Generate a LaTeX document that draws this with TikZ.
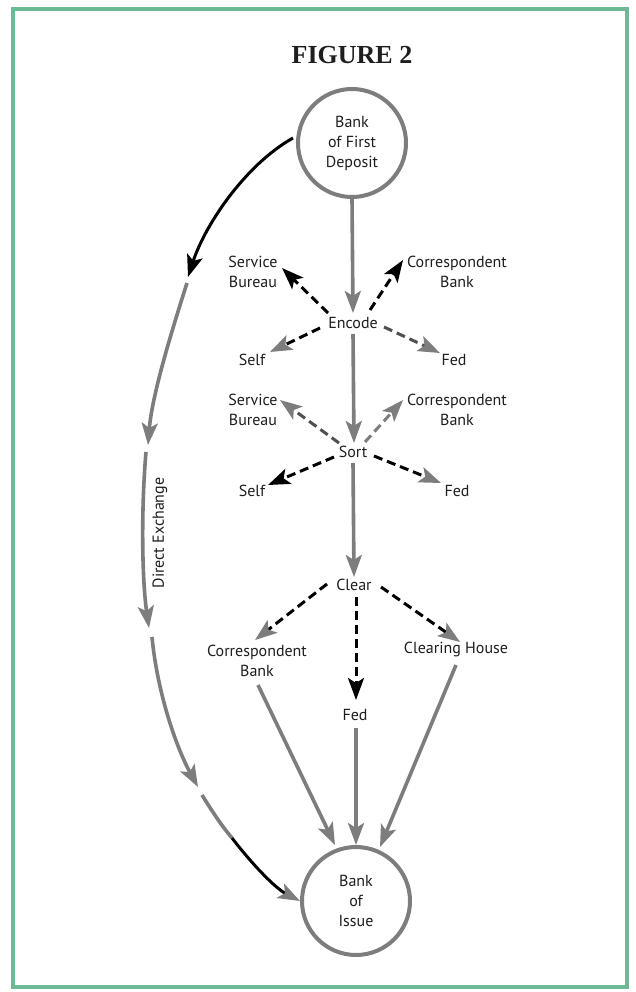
\documentclass[tikz,border=0pt]{standalone}
\usepackage{fontspec}
\setsansfont{PT Sans}
\newfontfamily\figfont{Liberation Serif}
\usetikzlibrary{arrows.meta,calc}
\definecolor{framegreen}{RGB}{110,185,150}
\definecolor{lgray}{RGB}{125,125,125}
\definecolor{dgray}{RGB}{80,80,80}
\definecolor{ink}{RGB}{30,30,30}
\tikzset{
  lab/.style={font=\sffamily\fontsize{16}{20}\selectfont, text=ink, align=center, inner sep=1pt},
  bank/.style={circle, draw=lgray, line width=4pt, minimum size=108pt, inner sep=0pt, lab},
  gline/.style={draw=lgray, line width=3.6pt},
  bline/.style={draw=black, line width=3pt},
  dline/.style={draw=black, line width=3pt, dash pattern=on 9pt off 5pt},
  ddline/.style={draw=dgray, line width=3pt, dash pattern=on 9pt off 5pt},
  gdline/.style={draw=lgray, line width=3pt, dash pattern=on 9pt off 5pt},
  ghead/.style={-{Stealth[length=22pt,width=16pt,inset=5pt,color=lgray]}},
  bhead/.style={-{Stealth[length=22pt,width=16pt,inset=5pt,color=black]}}
}
\begin{document}
\begin{tikzpicture}[x=1pt,y=-1pt]
\useasboundingbox (0,0) rectangle (636,992);
\fill[white] (0,0) rectangle (636,992);
\draw[framegreen, line width=4pt] (13,9) rectangle (627,987);

\node[font=\figfont\bfseries\fontsize{26}{30}\selectfont, text=ink] (title) at (352,55) {FIGURE 2};

% banks
\node[bank] (top) at (352,143) {Bank\\of First\\Deposit};
\node[bank] (bottom) at (356,901) {Bank\\of\\Issue};

% encode group
\node[lab] (enc) at (353,323) {Encode};
\node[lab] (encSB) at (253,272) {Service\\Bureau};
\node[lab] (encCB) at (457,272) {Correspondent\\Bank};
\node[lab] (encSelf) at (252,360) {Self};
\node[lab] (encFed) at (454,360) {Fed};

% sort group
\node[lab] (sort) at (353,452) {Sort};
\node[lab] (sortSB) at (253,410) {Service\\Bureau};
\node[lab] (sortCB) at (457,410) {Correspondent\\Bank};
\node[lab] (sortSelf) at (252,491) {Self};
\node[lab] (sortFed) at (457,491) {Fed};

% clear group
\node[lab] (clear) at (354,585) {Clear};
\node[lab] (clrCB) at (257,661) {Correspondent\\Bank};
\node[lab] (clrFed) at (355,715) {Fed};
\node[lab] (clrCH) at (456,649) {Clearing House};

% direct exchange label
\node[lab, rotate=90] (dx) at (160,533) {Direct Exchange};

% spine
\draw[gline, ghead] (top.south) -- ($(enc)+(0,-10)$);
\draw[gline, ghead] ($(enc)+(0,11)$) -- ($(sort)+(1,-9)$);
\draw[gline, ghead] ($(sort)+(0,11)$) -- ($(clear)+(0,-8)$);

% encode arrows
\draw[dline, bhead] ($(enc)+(-25,-10)$) -- ($(encSB)+(29,-4)$);
\draw[dline, bhead] ($(enc)+(17,-13)$) -- ($(encCB)+(-54,-12)$);
\draw[dline, ghead] ($(enc)+(-33,5)$) -- ($(encSelf)+(18,-8)$);
\draw[ddline, ghead] ($(enc)+(31,4)$) -- ($(encFed)+(-14,-7)$);

% sort arrows
\draw[ddline, ghead] ($(sort)+(-14,-9)$) -- ($(sortSB)+(27,-10)$);
\draw[gdline, ghead] ($(sort)+(12,-10)$) -- ($(sortCB)+(-54,-10)$);
\draw[dline, bhead] ($(sort)+(-19,5)$) -- ($(sortSelf)+(16,-6)$);
\draw[dline, ghead] ($(sort)+(21,4)$) -- ($(sortFed)+(-16,-8)$);

% clear arrows
\draw[dline, ghead] ($(clear)+(-27,-1)$) -- ($(clrCB)+(-2,-21)$);
\draw[dline, bhead] ($(clear)+(2,12)$) -- ($(clrFed)+(1,-15)$);
\draw[dline, ghead] ($(clear)+(27,2)$) -- ($(clrCH)+(4,-7)$);

% into bank of issue
\draw[gline, ghead] ($(clrCB)+(1,24)$) -- ($(bottom)+(-21,-56)$);
\draw[gline, ghead] ($(clrFed)+(1,13)$) -- (bottom.north);
\draw[gline, ghead] ($(clrCH)+(0,16)$) -- ($(bottom)+(24,-54)$);

% direct exchange chain
\coordinate (c1) at (188,277);
\coordinate (c2) at (187,283);
\coordinate (c3) at (148,445);
\coordinate (c4) at (146,452);
\coordinate (c5) at (149,628);
\coordinate (c6) at (152,637);
\coordinate (c7) at (198,787);
\coordinate (c8) at (202,795);
\coordinate (c9) at (232,838);
\draw[bline, bhead] ($(top)+(-59,-5)$) .. controls (245,165) and (205,225) .. (c1);
\draw[gline, ghead] (c2) .. controls (172,330) and (152,395) .. (c3);
\draw[gline, ghead] (c4) .. controls (141,510) and (142,580) .. (c5);
\draw[gline, ghead] (c6) .. controls (157,690) and (175,745) .. (c7);
\draw[gline] (c8) .. controls (212,811) and (221,825) .. (c9);
\draw[bline, ghead] (c9) .. controls (252,864) and (275,888) .. (bottom.west);
\end{tikzpicture}
\end{document}
